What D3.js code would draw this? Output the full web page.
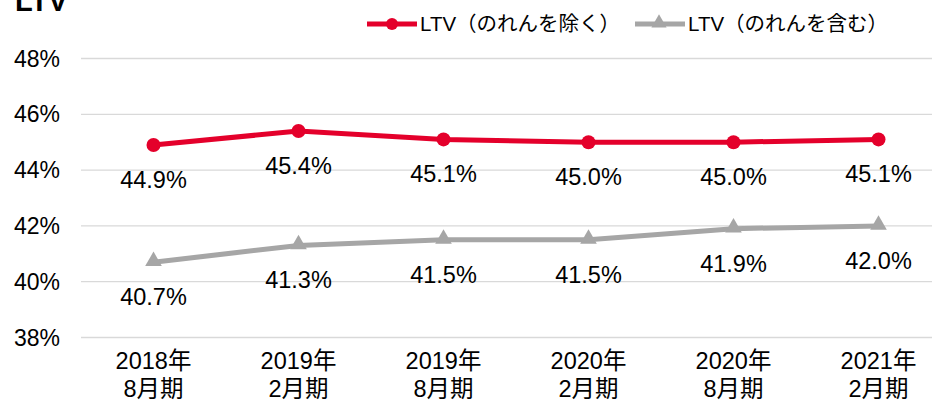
<!DOCTYPE html>
<html>
<head>
<meta charset="utf-8">
<script src="https://cdn.jsdelivr.net/npm/d3@7"></script>
<style>
  body { margin: 0; background: #fff; }
  text { font-family: "Liberation Sans", Arial, "Noto Sans CJK JP", sans-serif; fill: #000; }
</style>
</head>
<body>
<svg id="chart" width="932" height="404"></svg>
<script>
// data
var years = ["2018年", "2019年", "2019年", "2020年", "2020年", "2021年"];
var months = ["8月期", "2月期", "8月期", "2月期", "8月期", "2月期"];
var ltvExcl = [44.9, 45.4, 45.1, 45.0, 45.0, 45.1];
var ltvIncl = [40.7, 41.3, 41.5, 41.5, 41.9, 42.0];
var yTicks = [38, 40, 42, 44, 46, 48];
var seriesNames = ["LTV（のれんを除く）", "LTV（のれんを含む）"];

var red = "#e4002b", grey = "#a6a6a6";

var svg = d3.select("#chart");

var x = d3.scaleBand().domain(d3.range(years.length)).range([81, 951]);
var y = d3.scaleLinear().domain([38, 48]).range([337.5, 58.5]);
var cx = function(i) { return x(i) + x.bandwidth() / 2; };

// gridlines
svg.append("g").selectAll("line")
    .data(yTicks)
  .enter().append("line")
    .attr("x1", 81).attr("x2", 951)
    .attr("y1", function(d) { return y(d); })
    .attr("y2", function(d) { return y(d); })
    .attr("stroke", "#d9d9d9")
    .attr("stroke-width", 1.3);

// y axis labels
svg.append("g").selectAll("text")
    .data(yTicks)
  .enter().append("text")
    .attr("x", 60)
    .attr("y", function(d) { return y(d) + 8; })
    .attr("text-anchor", "end")
    .attr("font-size", 23)
    .text(function(d) { return d + "%"; });

// category labels
var cat = svg.append("g").selectAll("text")
    .data(years)
  .enter().append("text")
    .attr("text-anchor", "middle")
    .attr("font-size", 23.5);
cat.append("tspan")
    .attr("x", function(d, i) { return cx(i); })
    .attr("y", 369)
    .text(function(d) { return d; });
cat.append("tspan")
    .attr("x", function(d, i) { return cx(i); })
    .attr("y", 397)
    .text(function(d, i) { return months[i]; });

var line = d3.line()
    .x(function(d, i) { return cx(i); })
    .y(function(d) { return y(d); });

// grey series
svg.append("path")
    .datum(ltvIncl)
    .attr("fill", "none")
    .attr("stroke", grey)
    .attr("stroke-width", 5)
    .attr("d", line);
svg.append("g").selectAll("path")
    .data(ltvIncl)
  .enter().append("path")
    .attr("d", d3.symbol().type(d3.symbolTriangle).size(120))
    .attr("transform", function(d, i) { return "translate(" + cx(i) + "," + (y(d) - 1) + ")"; })
    .attr("fill", grey);

// red series
svg.append("path")
    .datum(ltvExcl)
    .attr("fill", "none")
    .attr("stroke", red)
    .attr("stroke-width", 5)
    .attr("d", line);
svg.append("g").selectAll("circle")
    .data(ltvExcl)
  .enter().append("circle")
    .attr("cx", function(d, i) { return cx(i); })
    .attr("cy", function(d) { return y(d); })
    .attr("r", 7)
    .attr("fill", red);

// data labels, below each point
[ltvExcl, ltvIncl].forEach(function(s) {
  svg.append("g").selectAll("text")
      .data(s)
    .enter().append("text")
      .attr("x", function(d, i) { return cx(i); })
      .attr("y", function(d) { return y(d) + 43; })
      .attr("text-anchor", "middle")
      .attr("font-size", 23.5)
      .text(function(d) { return d.toFixed(1) + "%"; });
});

// title (cut off at top in the original)
svg.append("text")
    .attr("x", 15).attr("y", 11)
    .attr("font-size", 29)
    .attr("font-weight", "bold")
    .text("LTV");

// legend
var lg = svg.append("g");
lg.append("line").attr("x1", 367).attr("x2", 417).attr("y1", 24).attr("y2", 24)
    .attr("stroke", red).attr("stroke-width", 5);
lg.append("circle").attr("cx", 392).attr("cy", 24).attr("r", 6).attr("fill", red);
lg.append("text").attr("x", 420).attr("y", 31).attr("font-size", 20.5).text(seriesNames[0]);

lg.append("line").attr("x1", 635).attr("x2", 685).attr("y1", 24).attr("y2", 24)
    .attr("stroke", grey).attr("stroke-width", 5);
lg.append("path").attr("d", d3.symbol().type(d3.symbolTriangle).size(100))
    .attr("transform", "translate(659,23)").attr("fill", grey);
lg.append("text").attr("x", 688).attr("y", 31).attr("font-size", 20.5).text(seriesNames[1]);
</script>
</body>
</html>
